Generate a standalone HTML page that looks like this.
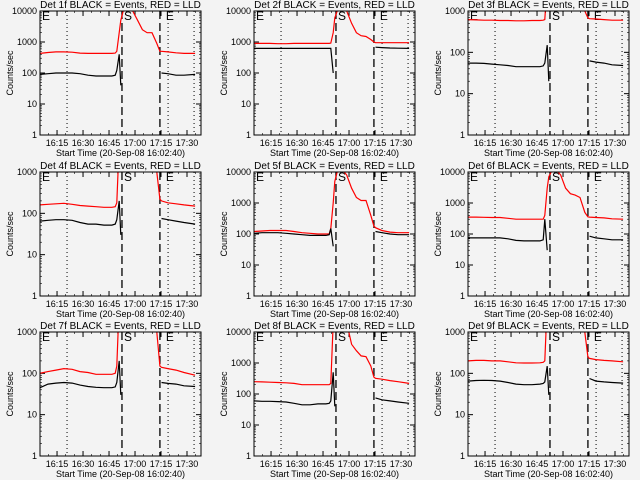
<!DOCTYPE html>
<html><head><meta charset="utf-8">
<style>
html,body{margin:0;padding:0;background:#f3f3f3;}
svg{display:block;font-family:"Liberation Sans",sans-serif;}
</style></head>
<body>
<svg id="chart" width="640" height="480" viewBox="0 0 640 480" xmlns="http://www.w3.org/2000/svg">
<rect x="0" y="0" width="640" height="480" fill="#f3f3f3"/>
</svg>
<script>
// time samples: minutes after 16:02:40
const times = [2.5,7.1,11.7,16.3,21,25.6,30.2,34.8,39.4,44,45.9,46.8,48.2,49.1,50.5,53.3,56,58.8,61.6,64.3,67.1,69.9,71.7,72.6,76.3,81,85.6,92];
const detNames = ["1f","2f","3f","4f","5f","6f","7f","8f","9f"];
const yMaxes = [10000,10000,1000,1000,10000,10000,1000,10000,1000];
const tickLabels = ["16:15","16:30","16:45","17:00","17:15","17:30"];
const tickMinutes = [12.33,27.33,42.33,57.33,72.33,87.33];
const dashedMinutes = [49.8,71.7];
const dottedMinutes = [18.1,76.4,91.4];
const N = null;
const red1 = [430,460,480,480,470,440,430,430,430,430,440,500,2000,5000,10000,12000,10000,5000,2500,2000,2000,900,500,500,480,450,430,430];
const blk1 = [90,95,100,100,100,95,85,80,80,80,85,120,400,40,N,N,N,N,N,N,N,N,N,100,95,85,85,90];
const red2 = [900,900,900,880,880,900,900,900,900,900,900,920,2000,6000,10000,12000,10000,4000,2000,1600,1500,1200,1000,950,950,950,950,950];
const blk2 = [620,620,620,620,620,620,620,620,620,620,620,620,100,N,N,N,N,N,N,N,N,N,N,680,660,640,630,620];
const red3 = [620,610,600,600,590,590,580,580,590,590,600,620,5000,5000,5000,5000,5000,5000,5000,5000,5000,1000,680,650,640,620,600,600];
const blk3 = [55,55,54,52,50,48,45,45,45,45,47,55,150,20,N,N,N,N,N,N,N,N,N,62,58,55,50,48];
const red4 = [160,165,170,175,165,155,150,145,140,140,145,180,5000,5000,5000,5000,5000,5000,5000,5000,5000,1000,220,200,180,170,160,150];
const blk4 = [65,68,70,70,68,60,55,55,52,52,55,70,200,30,N,N,N,N,N,N,N,N,N,75,70,65,60,55];
const red5 = [120,125,130,130,130,120,110,105,100,100,100,150,1000,5000,10000,12000,8000,3000,1500,1200,1200,400,180,160,130,115,110,110];
const blk5 = [105,110,110,110,105,100,95,90,90,90,95,150,40,N,N,N,N,N,N,N,N,N,N,120,110,100,95,95];
const red6 = [350,350,345,340,340,320,300,300,300,300,300,400,3000,7000,10000,12000,8000,3000,2000,1800,1500,500,360,350,340,330,310,300];
const blk6 = [75,75,75,75,75,70,62,60,60,60,65,300,30,N,N,N,N,N,N,N,N,N,N,85,75,70,65,65];
const red7 = [100,110,120,130,125,110,105,95,95,95,100,150,5000,5000,5000,5000,5000,5000,5000,5000,5000,1000,150,140,130,120,105,90];
const blk7 = [45,55,58,60,58,52,48,46,45,45,47,60,200,30,N,N,N,N,N,N,N,N,N,60,57,55,50,48];
const red8 = [250,245,240,235,230,220,200,200,200,200,200,220,20000,20000,20000,20000,20000,4000,2500,1700,1600,800,350,320,300,270,250,220];
const blk8 = [60,58,58,57,55,50,45,45,48,48,50,60,500,40,N,N,N,N,N,N,N,N,N,75,65,60,55,50];
const red9 = [200,205,205,200,200,190,180,178,178,180,185,200,5000,5000,5000,5000,5000,5000,5000,5000,5000,1000,250,230,215,205,200,190];
const blk9 = [65,67,68,67,65,60,55,53,53,55,57,62,150,30,N,N,N,N,N,N,N,N,N,75,65,62,60,58];
const redSeries = [red1,red2,red3,red4,red5,red6,red7,red8,red9];
const blackSeries = [blk1,blk2,blk3,blk4,blk5,blk6,blk7,blk8,blk9];

const NS = "http://www.w3.org/2000/svg";
const svg = document.getElementById("chart");
function mk(tag, attrs, parent){
  const e = document.createElementNS(NS, tag);
  for (const k in attrs) e.setAttribute(k, attrs[k]);
  (parent||svg).appendChild(e);
  return e;
}
const W = 161, H = 124, PXMIN = 1.733, T0 = 2.5;

for (let p = 0; p < 9; p++) {
  const c = p % 3, r = Math.floor(p / 3);
  const L = 40 + 214 * c, T = 11 + Math.round(160.5 * r);
  const yMax = yMaxes[p];
  const dec = Math.log10(yMax);
  const xS = t => L + (t - T0) * PXMIN;
  const yS = v => T + H - (Math.log10(v) / dec) * H;

  const g = mk("g", {});
  
  

  const clip = mk("clipPath", {id: "clip" + p}, g);
  mk("rect", {x: L, y: T, width: W, height: H}, clip);

  const title = mk("text", {x: L + W / 2, y: T - 3, "font-size": "10", "text-anchor": "middle", fill: "#000"}, g);
  title.textContent = "Det " + detNames[p] + " BLACK = Events, RED = LLD";
  
  

  for (let d = 0; d <= dec; d++) {
    const y = yS(Math.pow(10, d));
    mk("line", {x1: L, x2: L + 5, y1: y, y2: y, stroke: "#000", "stroke-width": 1}, g);
    mk("line", {x1: L + W - 5, x2: L + W, y1: y, y2: y, stroke: "#000", "stroke-width": 1}, g);
    const tl = mk("text", {x: L - 3, y: y + 3, "font-size": "9", "text-anchor": "end", fill: "#000"}, g);
    tl.textContent = String(Math.pow(10, d));
    
    
    if (d < dec) {
      for (let m = 2; m < 10; m++) {
        const ym = yS(m * Math.pow(10, d));
        mk("line", {x1: L, x2: L + 2, y1: ym, y2: ym, stroke: "#000", "stroke-width": 0.6}, g);
        mk("line", {x1: L + W - 2, x2: L + W, y1: ym, y2: ym, stroke: "#000", "stroke-width": 0.6}, g);
      }
    }
  }
  const yl = mk("text", {x: 0, y: 0, "font-size": "9", "text-anchor": "middle", fill: "#000",
    transform: "translate(" + (L - 27) + "," + (T + H / 2) + ") rotate(-90)"}, g);
  yl.textContent = "Counts/sec";
  
  

  for (let i = 0; i < tickMinutes.length; i++) {
    const x = xS(tickMinutes[i]);
    mk("line", {x1: x, x2: x, y1: T + H, y2: T + H - 5, stroke: "#000", "stroke-width": 1}, g);
    mk("line", {x1: x, x2: x, y1: T, y2: T + 5, stroke: "#000", "stroke-width": 1}, g);
    const xl = mk("text", {x: x, y: T + H + 11, "font-size": "9", "text-anchor": "middle", fill: "#000"}, g);
    xl.textContent = tickLabels[i];
    
    
  }
  for (let t = 2.33; t < 100; t += 5) {
    const x = xS(t);
    if (x < L || x > L + W) continue;
    mk("line", {x1: x, x2: x, y1: T + H, y2: T + H - 2, stroke: "#000", "stroke-width": 0.6}, g);
    mk("line", {x1: x, x2: x, y1: T, y2: T + 2, stroke: "#000", "stroke-width": 0.6}, g);
  }
  const xt = mk("text", {x: L + W / 2, y: T + H + 21, "font-size": "9", "text-anchor": "middle", fill: "#000"}, g);
  xt.textContent = "Start Time (20-Sep-08 16:02:40)";
  
  

  dottedMinutes.forEach(t => {
    const ln = mk("line", {x1: xS(t), x2: xS(t), y1: T, y2: T + H, stroke: "#000", "stroke-width": 1, "stroke-dasharray": "1,3"}, g);
    
    
  });
  dashedMinutes.forEach(t => {
    const ln = mk("line", {x1: xS(t), x2: xS(t), y1: T, y2: T + H, stroke: "#000", "stroke-width": 1.3, "stroke-dasharray": "8,4"}, g);
    
    
  });

  const letters = [["E", L + 2], ["S", xS(dashedMinutes[0]) + 2], ["E", xS(dashedMinutes[1]) + 6]];
  letters.forEach(([s, x]) => {
    const tx = mk("text", {x: x, y: T + 9, "font-size": "12", fill: "#000", "clip-path": "url(#clip" + p + ")"}, g);
    tx.textContent = s;
    
    
  });

  function pathFor(arr) {
    let d = "", pen = false;
    for (let i = 0; i < times.length; i++) {
      if (arr[i] === null) { pen = false; continue; }
      d += (pen ? "L" : "M") + xS(times[i]).toFixed(1) + "," + yS(arr[i]).toFixed(1);
      pen = true;
    }
    return d;
  }
  const rp = mk("path", {d: pathFor(redSeries[p]), fill: "none", stroke: "#ff0000", "stroke-width": 1.2, "clip-path": "url(#clip" + p + ")"}, g);
  
  
  const bp = mk("path", {d: pathFor(blackSeries[p]), fill: "none", stroke: "#000", "stroke-width": 1.2, "clip-path": "url(#clip" + p + ")"}, g);
  
  

  const box = mk("rect", {x: L, y: T, width: W, height: H, fill: "none", stroke: "#000", "stroke-width": 1}, g);
  
  
}
</script>
</body></html>
